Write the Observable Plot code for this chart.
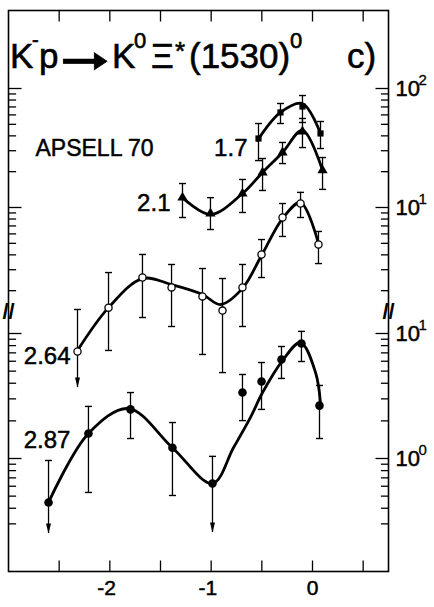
<!DOCTYPE html>
<html><head><meta charset="utf-8">
<script src="https://cdn.jsdelivr.net/npm/d3@7"></script>
<script src="https://cdn.jsdelivr.net/npm/@observablehq/plot@0.6"></script>
<style>
html,body{margin:0;padding:0;background:#fff;}
#chart svg{display:block;}
</style>
</head><body><div id="chart"></div>
<script>
// ---------- data (t in GeV^2, dσ/dt values) ----------
// 1.7 GeV/c (filled squares) – upper scale
const t17  = [-0.533, -0.316, -0.099, 0.079];
const v17  = [38.0, 62.9, 70.6, 41.9];
const lo17 = [24.8, 50.8, 51.8, 31.3];
const hi17 = [50.8, 74.8, 87.3, 52.8];
const lim17 = [false, false, false, false];
const curveT17 = [-0.543, -0.316, -0.099, 0.079];
const curveV17 = [36.6, 62.9, 74.8, 41.9];

// 2.1 GeV/c (filled triangles) – upper scale
const t21  = [-1.283, -1.007, -0.691, -0.493, -0.296, -0.099, 0.099];
const v21  = [12.1, 8.9, 13.1, 19.7, 29.0, 43.5, 20.5];
const lo21 = [8.24, 6.53, 9.08, 13.9, 23.4, 31.9, 14.2];
const hi21 = [15.9, 12.1, 17.2, 25.8, 35.2, 56.0, 26.3];
const lim21 = [false, false, false, false, false, false, false];
const curveT21 = [-1.283, -1.007, -0.691, -0.493, -0.296, -0.099, 0.099];
const curveV21 = [12.1, 8.73, 13.1, 19.7, 29.0, 44.4, 20.5];

// 2.64 GeV/c (open circles) – upper scale
const t264  = [-2.319, -2.013, -1.678, -1.391, -1.086, -0.888, -0.691, -0.503, -0.296, -0.118, 0.059];
const v264  = [0.616, 1.44, 2.58, 2.13, 1.79, 1.36, 2.13, 4.03, 8.24, 10.8, 4.89];
const lo264 = [0.307, 0.629, 1.19, 1.0, 0.582, 0.41, 1.0, 2.58, 5.71, 8.24, 3.38];
const hi264 = [1.39, 2.84, 4.03, 3.32, 3.07, 2.53, 3.32, 5.38, 10.8, 13.4, 6.29];
const lim264 = [true, false, false, false, false, false, false, false, false, false, false];
const curveT264 = [-2.319, -2.013, -1.678, -1.391, -1.086, -0.908, -0.691, -0.503, -0.296, -0.118, 0.059];
const curveV264 = [0.629, 1.44, 2.53, 2.25, 1.86, 1.53, 2.09, 3.95, 8.08, 11.0, 4.98];

// 2.87 GeV/c (filled circles) – lower scale
const t287  = [-2.605, -2.211, -1.796, -1.382, -0.987, -0.691, -0.503, -0.306, -0.109, 0.069];
const v287  = [0.445, 1.585, 2.47, 1.22, 0.631, 3.37, 4.13, 6.19, 8.32, 2.65];
const lo287 = [0.251, 0.535, 1.445, 0.506, 0.256, 2.01, 2.47, 4.37, 5.97, 1.445];
const hi287 = [0.964, 2.61, 3.37, 1.94, 1.04, 4.70, 5.86, 7.87, 10.4, 3.84];
const lim287 = [true, false, false, false, true, false, false, false, false, false];
const curveT287 = [-2.605, -2.211, -1.816, -1.382, -0.987, -0.780, -0.612, -0.493, -0.296, -0.118, 0.030, 0.079];
const curveV287 = [0.445, 1.585, 2.51, 1.22, 0.631, 1.22, 2.13, 3.37, 6.08, 8.47, 4.88, 2.75];

// axis ticks and labels
const xTicks = [-2.5, -2, -1.5, -1, -0.5, 0, 0.5];
const xLabels = [-2, -1, 0];
const upperMajor = [10, 100];
const upperMinor = [2, 3, 4, 5, 6, 7, 8, 9, 20, 30, 40, 50, 60, 70, 80, 90];
const lowerMajor = [1, 10];
const lowerMinor = [0.3, 0.4, 0.5, 0.6, 0.7, 0.8, 0.9, 2, 3, 4, 5, 6, 7, 8, 9];
const rightLabelValues = [100, 10, 10, 1];
const rightLabelPanels = ["upper", "upper", "lower", "lower"];
const rightLabelExps = ["2", "1", "1", "0"];
const breakValue = 15; // lower-scale value where the axis is broken

// ---------- broken log axis: two decade scales on one linear position ----------
const Y = {
  upper: v => 1.056 + 0.952 * Math.log10(v),
  lower: v => Math.log10(v)
};

const seriesDefs = [
  {name: "1.7", panel: "upper", t: t17, v: v17, lo: lo17, hi: hi17, lim: lim17, ct: curveT17, cv: curveV17},
  {name: "2.1", panel: "upper", t: t21, v: v21, lo: lo21, hi: hi21, lim: lim21, ct: curveT21, cv: curveV21},
  {name: "2.64", panel: "upper", t: t264, v: v264, lo: lo264, hi: hi264, lim: lim264, ct: curveT264, cv: curveV264},
  {name: "2.87", panel: "lower", t: t287, v: v287, lo: lo287, hi: hi287, lim: lim287, ct: curveT287, cv: curveV287}
];
const points = seriesDefs.flatMap(s => s.t.map((t, i) => ({
  series: s.name, t, y: Y[s.panel](s.v[i]), ylo: Y[s.panel](s.lo[i]), yhi: Y[s.panel](s.hi[i]), lim: s.lim[i]
})));
const curves = seriesDefs.flatMap(s => s.ct.map((t, i) => ({series: s.name, t, y: Y[s.panel](s.cv[i])})));
const pts = name => points.filter(d => d.series === name);

const yTicksMajor = [...upperMajor.map(v => Y.upper(v)), ...lowerMajor.map(v => Y.lower(v))];
const yTicksMinor = [...upperMinor.map(v => Y.upper(v)), ...lowerMinor.map(v => Y.lower(v))];
const rightLabels = rightLabelValues.map((v, i) => ({y: Y[rightLabelPanels[i]](v), exp: rightLabelExps[i]}));

// custom symbols
const hLine = {draw(ctx, size) { const r = Math.sqrt(size / Math.PI); ctx.moveTo(-r, 0); ctx.lineTo(r, 0); }};
const vLine = {draw(ctx, size) { const r = Math.sqrt(size / Math.PI); ctx.moveTo(0, -r); ctx.lineTo(0, r); }};
const downHead = {draw(ctx, size) { const r = Math.sqrt(size / Math.PI); ctx.moveTo(0, 0); ctx.lineTo(-0.5 * r, -2 * r); ctx.lineTo(0.5 * r, -2 * r); ctx.closePath(); }};

const FONT = "'Liberation Sans', Arial, Helvetica, sans-serif";
const W = 434, H = 607;
const bold = {stroke: "black", strokeWidth: 0.5};

const chart = Plot.plot({
  width: W, height: H,
  marginLeft: 8, marginRight: 46, marginTop: 10, marginBottom: 36,
  style: {fontFamily: FONT, background: "white", color: "black"},
  x: {domain: [-3, 0.75], axis: null},
  y: {domain: [-0.904, 3.584], axis: null},
  marks: [
    Plot.frame({stroke: "black", strokeWidth: 1.6}),
    // y ticks (inward) on left and right
    Plot.dot(yTicksMajor, {y: d => d, frameAnchor: "left", dx: 6.5, r: 6.5, symbol: hLine, stroke: "black", strokeWidth: 1.3, fill: "none"}),
    Plot.dot(yTicksMinor, {y: d => d, frameAnchor: "left", dx: 3.8, r: 3.8, symbol: hLine, stroke: "black", strokeWidth: 1.3, fill: "none"}),
    Plot.dot(yTicksMajor, {y: d => d, frameAnchor: "right", dx: -6.5, r: 6.5, symbol: hLine, stroke: "black", strokeWidth: 1.3, fill: "none"}),
    Plot.dot(yTicksMinor, {y: d => d, frameAnchor: "right", dx: -3.8, r: 3.8, symbol: hLine, stroke: "black", strokeWidth: 1.3, fill: "none"}),
    // x ticks (inward) top and bottom
    Plot.dot(xTicks, {x: d => d, frameAnchor: "bottom", dy: -5.5, r: 5.5, symbol: vLine, stroke: "black", strokeWidth: 1.3, fill: "none"}),
    Plot.dot(xTicks, {x: d => d, frameAnchor: "top", dy: 5.5, r: 5.5, symbol: vLine, stroke: "black", strokeWidth: 1.3, fill: "none"}),
    // x tick labels
    Plot.text(xLabels, {x: d => d, frameAnchor: "bottom", dy: 23, dx: 6, textAnchor: "end", text: d => (d < 0 ? "-" + Math.abs(d) : String(d)), fontSize: 21, fill: "black", ...bold}),
    // right decade labels
    Plot.text(rightLabels, {y: "y", frameAnchor: "right", dx: 7, textAnchor: "start", text: () => "10", fontSize: 22, fill: "black", letterSpacing: -1, ...bold}),
    Plot.text(rightLabels, {y: "y", frameAnchor: "right", dx: 30, dy: -8, textAnchor: "start", text: "exp", fontSize: 15, fill: "black", stroke: "black", strokeWidth: 0.3}),
    // axis break marks
    Plot.text([Y.lower(breakValue)], {y: d => d, frameAnchor: "left", textAnchor: "middle", text: () => "//", fontSize: 22, fontWeight: "bold", fill: "black"}),
    Plot.text([Y.lower(breakValue)], {y: d => d, frameAnchor: "right", textAnchor: "middle", text: () => "//", fontSize: 22, fontWeight: "bold", fill: "black"}),
    // fitted curves
    Plot.line(curves, {x: "t", y: "y", z: "series", curve: "catmull-rom", stroke: "black", strokeWidth: 2.8}),
    // error bars
    Plot.ruleX(points, {x: "t", y1: "ylo", y2: "yhi", stroke: "black", strokeWidth: 1.3}),
    Plot.dot(points, {x: "t", y: "yhi", symbol: hLine, r: 3.5, stroke: "black", strokeWidth: 1.4, fill: "none"}),
    Plot.dot(points.filter(d => !d.lim), {x: "t", y: "ylo", symbol: hLine, r: 3.5, stroke: "black", strokeWidth: 1.4, fill: "none"}),
    Plot.dot(points.filter(d => d.lim), {x: "t", y: "ylo", symbol: downHead, r: 5, fill: "black", stroke: "none"}),
    // data markers
    Plot.dot(pts("1.7"), {x: "t", y: "y", symbol: "square", r: 3.5, fill: "black", stroke: "none"}),
    Plot.dot(pts("2.1"), {x: "t", y: "y", symbol: "triangle", r: 3.8, fill: "black", stroke: "none"}),
    Plot.dot(pts("2.64"), {x: "t", y: "y", symbol: "circle", r: 3.6, fill: "white", stroke: "black", strokeWidth: 1.3}),
    Plot.dot(pts("2.87"), {x: "t", y: "y", symbol: "circle", r: 4.3, fill: "black", stroke: "none"}),
    // series labels (beam momenta)
    Plot.text(pts("1.7").slice(0, 1), {x: "t", y: "y", text: "series", textAnchor: "end", dx: -11, dy: 10, fontSize: 24, fill: "black", letterSpacing: -1, ...bold}),
    Plot.text(pts("2.1").slice(0, 1), {x: "t", y: "y", text: "series", textAnchor: "end", dx: -12, dy: 6, fontSize: 24, fill: "black", letterSpacing: -1, ...bold}),
    Plot.text(pts("2.64").slice(0, 1), {x: "t", y: "y", text: "series", textAnchor: "end", dx: -7, dy: 5, fontSize: 24, fill: "black", letterSpacing: -1, ...bold}),
    Plot.text(pts("2.87").slice(1, 2), {x: "t", y: "y", text: "series", textAnchor: "end", dx: -18, dy: 7, fontSize: 24, fill: "black", letterSpacing: -1, ...bold}),
    // experiment label
    Plot.text(["APSELL 70"], {frameAnchor: "top-left", dx: 27, dy: 129, textAnchor: "start", text: d => d, fontSize: 23, fill: "black", ...bold})
  ]
});
document.getElementById("chart").append(chart);

// reaction title with superscripts
const svg = d3.select(chart);
const title = svg.append("text")
  .attr("font-family", FONT).attr("fill", "black").attr("stroke", "black").attr("stroke-width", 0.6)
  .attr("font-size", 35).attr("text-anchor", "start");
const piece = (x, y, size, str) => title.append("tspan").attr("x", x).attr("y", y).attr("font-size", size).text(str);
piece(10, 68, 35, "K");
piece(32, 47, 20, "-");
piece(39, 68, 35, "p");
piece(60, 74, 40, "➞").attr("font-family", "'DejaVu Sans', sans-serif")
  .attr("textLength", 50).attr("lengthAdjust", "spacingAndGlyphs");
piece(112, 68, 35, "K");
piece(134, 48, 22, "0");
piece(151, 68, 35, "Ξ");
piece(175, 60, 26, "*");
piece(189, 68, 35, "(1530)");
piece(290, 48, 22, "0");
piece(347, 68, 35, "c)");
</script>
</body></html>
